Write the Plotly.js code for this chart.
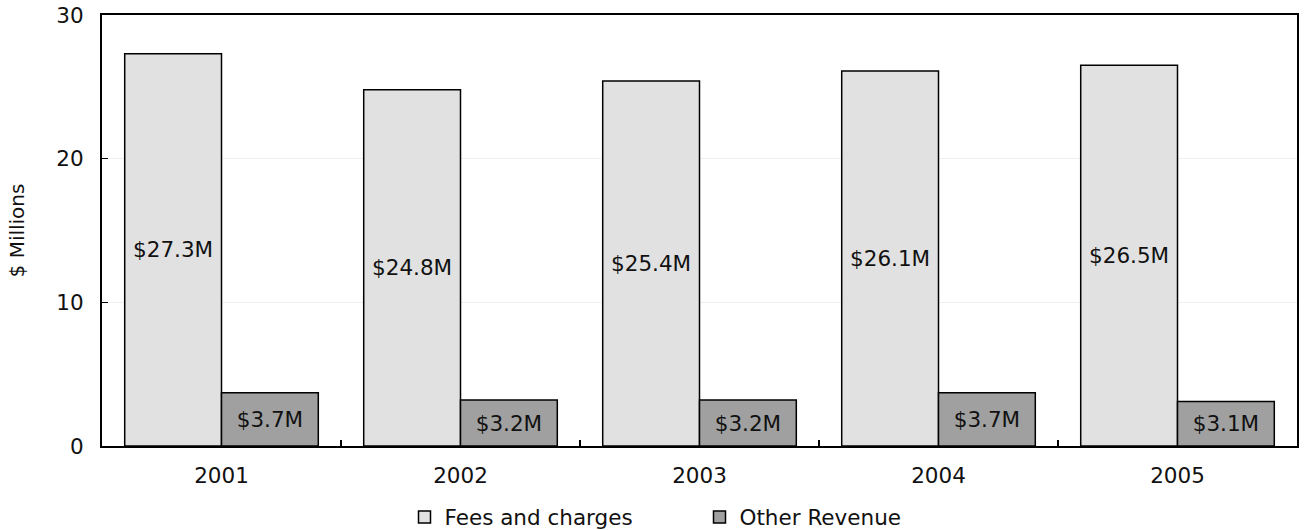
<!DOCTYPE html>
<html>
<head>
<meta charset="utf-8">
<script src="https://cdn.plot.ly/plotly-3.0.1.min.js"></script>
<style>html,body{margin:0;padding:0;background:#fff;}#chart{width:1308px;height:530px;}</style>
</head>
<body>
<div id="chart"></div>
<script>
var years = ["2001", "2002", "2003", "2004", "2005"];
var feesValues = [27.3, 24.8, 25.4, 26.1, 26.5];
var otherValues = [3.7, 3.2, 3.2, 3.7, 3.1];
var seriesNames = ["Fees and charges", "Other Revenue"];
var yTicks = [0, 10, 20, 30];

function labels(arr) { return arr.map(function (v) { return "$" + v.toFixed(1) + "M"; }); }

var font = "DejaVu Sans, Verdana, sans-serif";
var fs = 21.5;
var traces = [
  {
    type: "bar", name: seriesNames[0], x: years, y: feesValues,
    text: labels(feesValues), textposition: "inside", insidetextanchor: "middle",
    textangle: 0, textfont: {family: font, size: fs, color: "#111"},
    marker: {color: "#e1e1e1", line: {color: "#000", width: 1.5}},
    hoverinfo: "skip", cliponaxis: false
  },
  {
    type: "bar", name: seriesNames[1], x: years, y: otherValues,
    text: labels(otherValues), textposition: "inside", insidetextanchor: "middle",
    textangle: 0, textfont: {family: font, size: fs, color: "#111"},
    marker: {color: "#a0a0a0", line: {color: "#000", width: 1.5}},
    hoverinfo: "skip", cliponaxis: false
  }
];

var layout = {
  width: 1308, height: 530,
  margin: {l: 102, r: 11, t: 15, b: 84, autoexpand: false},
  paper_bgcolor: "#fff", plot_bgcolor: "#fff",
  barmode: "group", bargap: 0.19, bargroupgap: 0,
  font: {family: font, size: fs, color: "#111"},
  xaxis: {
    type: "category", tickson: "boundaries", ticks: "inside", ticklen: 6,
    tickcolor: "#000", tickwidth: 1.5, automargin: false,
    showline: true, linecolor: "#000", linewidth: 2, mirror: true,
    showgrid: false, zeroline: false, ticklabelstandoff: 9,
    tickfont: {family: font, size: fs, color: "#111"}
  },
  yaxis: {
    range: [0, 30], tickvals: yTicks, ticktext: yTicks.map(String),
    ticks: "inside", ticklen: 6, tickcolor: "#000", tickwidth: 1.5, automargin: false,
    showline: true, linecolor: "#000", linewidth: 2, mirror: true,
    showgrid: true, gridcolor: "#f0f0f0", gridwidth: 1, zeroline: false,
    tickfont: {family: font, size: fs, color: "#111"},
    ticklabelstandoff: 12,
    title: {text: "$ Millions", font: {family: font, size: 20, color: "#111"}, standoff: 26}
  },
  legend: {
    orientation: "h", x: 0.5, xanchor: "center", y: -0.165, yanchor: "middle",
    font: {family: font, size: fs, color: "#111"},
    itemwidth: 30, traceorder: "normal", entrywidth: 250, entrywidthmode: "pixels"
  },
  showlegend: true
};

Plotly.newPlot("chart", traces, layout, {staticPlot: true, displayModeBar: false});
</script>
</body>
</html>
